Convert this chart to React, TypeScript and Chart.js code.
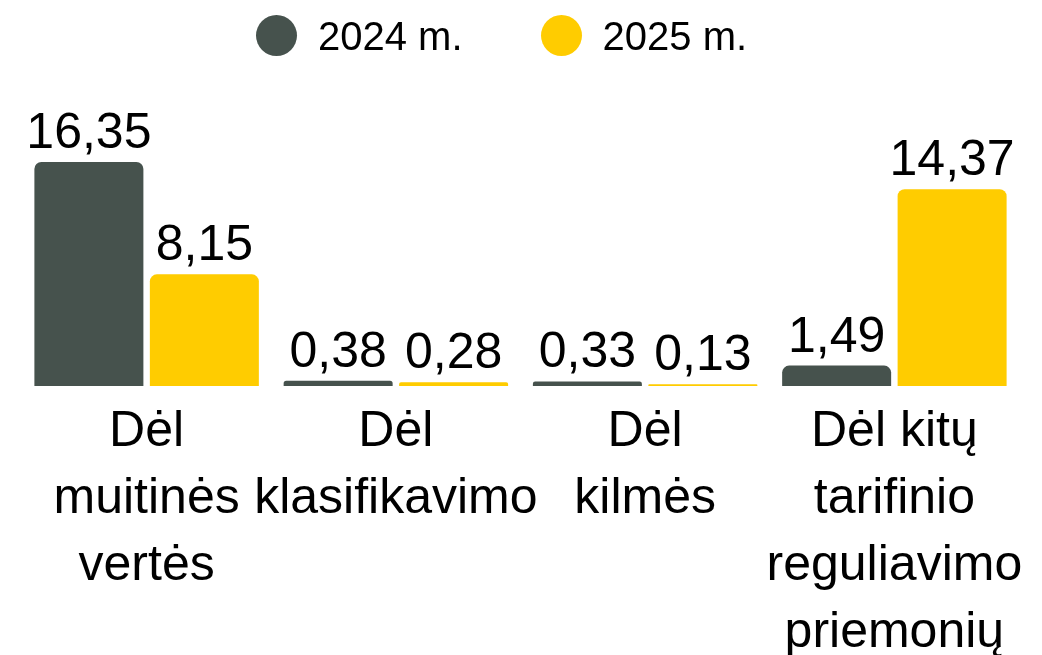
import React, { useEffect, useRef } from "react";
import { Chart, registerables } from "chart.js";

Chart.register(...registerables);

// ---- data ----
const categories: string[][] = [
  ["Dėl", "muitinės", "vertės"],
  ["Dėl", "klasifikavimo"],
  ["Dėl", "kilmės"],
  ["Dėl kitų", "tarifinio", "reguliavimo", "priemonių"],
];
const seriesNames: string[] = ["2024 m.", "2025 m."];
const values2024: number[] = [16.35, 0.38, 0.33, 1.49];
const values2025: number[] = [8.15, 0.28, 0.13, 14.37];
const seriesColors: string[] = ["#46524D", "#FFCC00"];
const yMax = 20;

const FONT = '"Liberation Sans", Arial, Helvetica, sans-serif';

const formatValue = (v: number) => v.toFixed(2).replace(".", ",");

const valueLabels = {
  id: "valueLabels",
  afterDatasetsDraw(chart: any) {
    const ctx = chart.ctx;
    ctx.save();
    ctx.font = `50px ${FONT}`;
    ctx.fillStyle = "#000";
    ctx.textAlign = "center";
    ctx.textBaseline = "alphabetic";
    chart.data.datasets.forEach((ds: any, di: number) => {
      const meta = chart.getDatasetMeta(di);
      meta.data.forEach((el: any, i: number) => {
        const v = ds.data[i] as number;
        ctx.fillText(formatValue(v), el.x, el.y - 14);
      });
    });
    ctx.restore();
  },
};

export default function App() {
  const canvasRef = useRef<HTMLCanvasElement | null>(null);

  useEffect(() => {
    if (!canvasRef.current) return;
    const allValues = [values2024, values2025];
    const chart = new Chart(canvasRef.current, {
      type: "bar",
      data: {
        labels: categories,
        datasets: seriesNames.map((name, i) => ({
          label: name,
          data: allValues[i],
          backgroundColor: seriesColors[i],
          borderRadius: 7,
          borderSkipped: "bottom",
          categoryPercentage: 0.9265,
          barPercentage: 0.944,
        })),
      },
      options: {
        responsive: false,
        animation: false,
        layout: { padding: { top: 112, left: 22, right: 23, bottom: 0 } },
        plugins: {
          legend: { display: false },
          tooltip: { enabled: false },
        },
        scales: {
          x: {
            grid: { display: false, drawTicks: false },
            border: { display: false },
            ticks: {
              color: "#000",
              font: { family: FONT, size: 50, lineHeight: 1.34 },
              padding: 13,
              maxRotation: 0,
              minRotation: 0,
              autoSkip: false,
            },
            afterFit: (scale: any) => {
              scale.height = 269;
              scale.paddingLeft = 0;
              scale.paddingRight = 0;
            },
          },
          y: { display: false, min: 0, max: yMax },
        },
      },
      plugins: [valueLabels],
    } as any);
    return () => chart.destroy();
  }, []);

  return (
    <div
      style={{
        position: "absolute",
        left: 0,
        top: 0,
        width: 1042,
        height: 655,
        background: "#fff",
        overflow: "hidden",
      }}
    >
      <canvas
        ref={canvasRef}
        width={1042}
        height={655}
        style={{ position: "absolute", left: 0, top: 0 }}
      />
      <div
        style={{
          position: "absolute",
          left: 256,
          top: 15,
          height: 41,
          display: "flex",
          alignItems: "center",
          gap: 78,
          fontFamily: FONT,
          fontSize: 40,
          lineHeight: "41px",
          color: "#000",
          whiteSpace: "nowrap",
        }}
      >
        {seriesNames.map((name, i) => (
          <div key={name} style={{ display: "flex", alignItems: "center", gap: 21 }}>
            <span
              style={{
                display: "inline-block",
                width: 41,
                height: 41,
                borderRadius: "50%",
                background: seriesColors[i],
              }}
            />
            <span style={{ paddingTop: 2 }}>{name}</span>
          </div>
        ))}
      </div>
    </div>
  );
}
